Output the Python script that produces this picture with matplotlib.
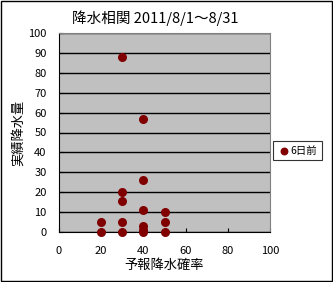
import matplotlib
matplotlib.use("Agg")
import matplotlib.pyplot as plt

plt.rcParams['font.family'] = ['Noto Sans CJK JP', 'DejaVu Sans']

# 予報降水確率 (%) と 実績降水量 (mm)
prob = [20, 20, 30, 30, 30, 30, 30, 40, 40, 40, 40, 40, 40, 50, 50, 50]
rain = [5, 0, 88, 20, 15.5, 5, 0, 57, 26, 11, 3, 1, 0, 10, 5, 0]

title = '降水相関 2011/8/1～8/31'
xlab = '予報降水確率'
ylab = '実績降水量'
series_name = '6日前'

fig = plt.figure(figsize=(3.33, 2.82), dpi=100)
fig.patch.set_facecolor('white')
ax = fig.add_axes([59/333, 50/282, 211/333, 199/282])
ax.set_facecolor('#C0C0C0')

ax.scatter(prob, rain, s=30, color='#800000', zorder=3, label=series_name, clip_on=False)

ax.set_xlim(0, 100)
ax.set_ylim(0, 100)
ax.set_xticks(range(0, 101, 20))
ax.set_yticks(range(0, 101, 10))
ax.yaxis.grid(True, color='black', linewidth=1)
ax.set_axisbelow(True)
ax.tick_params(axis='both', labelsize=8, length=3, direction='in')
ax.tick_params(axis='y', pad=9)
ax.tick_params(axis='x', pad=10)
for s in ['top', 'right']:
    ax.spines[s].set_color('#808080')
for s in ['left', 'bottom']:
    ax.spines[s].set_color('black')

fig.text(155/333, 1 - 18/282, title, fontsize=10.5, ha='center', va='center')
ax.set_xlabel(xlab, fontsize=9.5, labelpad=2)
ax.set_ylabel(ylab, fontsize=9.5, labelpad=2)

leg = fig.legend(loc='upper left', bbox_to_anchor=(273/333, 1 - 141/282), fontsize=7.5,
                 frameon=True, fancybox=False, edgecolor='black', handletextpad=0.0,
                 handlelength=1.2, borderpad=0.45, borderaxespad=0, markerscale=0.85)
leg.get_frame().set_linewidth(0.8)

fig.add_artist(plt.Rectangle((0.002, 0.002), 0.994, 0.994, transform=fig.transFigure,
                             fill=False, edgecolor='black', linewidth=1))

fig.savefig('out.png', dpi=100)
